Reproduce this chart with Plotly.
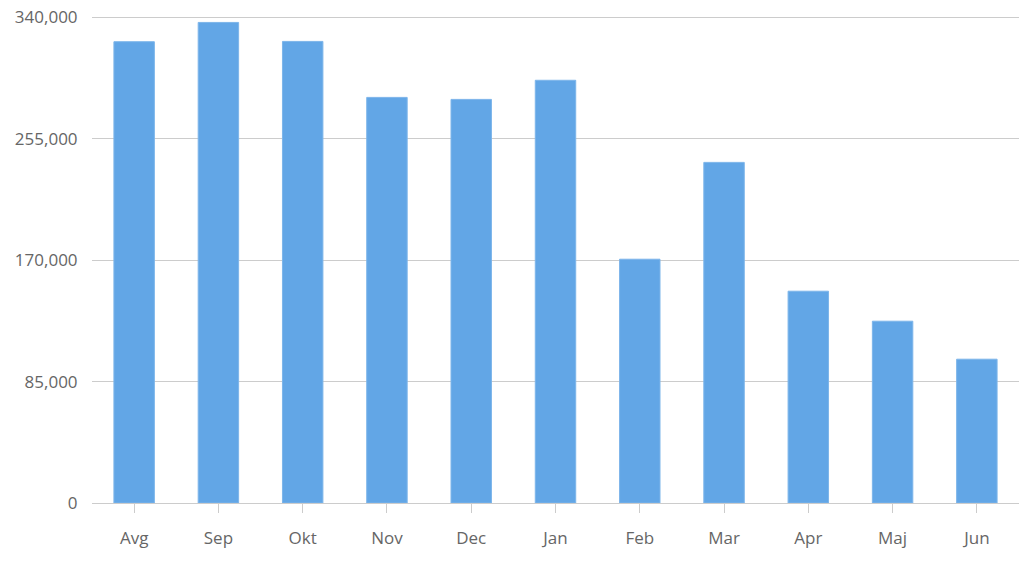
import plotly.graph_objects as go

months = ["Avg", "Sep", "Okt", "Nov", "Dec", "Jan", "Feb", "Mar", "Apr", "Maj", "Jun"]
values = [323000, 336500, 323200, 284000, 282600, 296000, 170700, 238500, 148300, 127300, 100700]
y_ticks = [0, 85000, 170000, 255000, 340000]

fig = go.Figure(
    go.Bar(
        x=months,
        y=values,
        marker={"color": "#62a6e6", "line": {"color": "#7db5ea", "width": 1}},
        hoverinfo="x+y",
    )
)

fig.update_layout(
    width=1023,
    height=564,
    margin={"l": 92, "r": 4, "t": 16, "b": 61},
    plot_bgcolor="white",
    paper_bgcolor="white",
    bargap=0.52,
    showlegend=False,
    font={"family": "Open Sans, sans-serif", "size": 17, "color": "#666666"},
    xaxis={
        "showgrid": False,
        "showline": True,
        "linecolor": "#cccccc",
        "linewidth": 1,
        "ticks": "outside",
        "ticklen": 9,
        "tickcolor": "#cccccc",
        "ticklabelstandoff": 11,
    },
    yaxis={
        # a little headroom above the top tick, otherwise plotly drops its gridline
        "range": [0, 341000],
        "tickvals": y_ticks,
        "tickformat": ",d",
        "showgrid": True,
        "gridcolor": "#cccccc",
        "gridwidth": 1,
        "zeroline": False,
        "ticks": "outside",
        "ticklen": 10,
        "tickcolor": "rgba(0,0,0,0)",
    },
)

# drop the default 8px body margin so the figure sits at the window origin
fig.write_html(
    "out.html",
    config={"displayModeBar": False},
    post_script="document.body.style.margin = '0';",
)
